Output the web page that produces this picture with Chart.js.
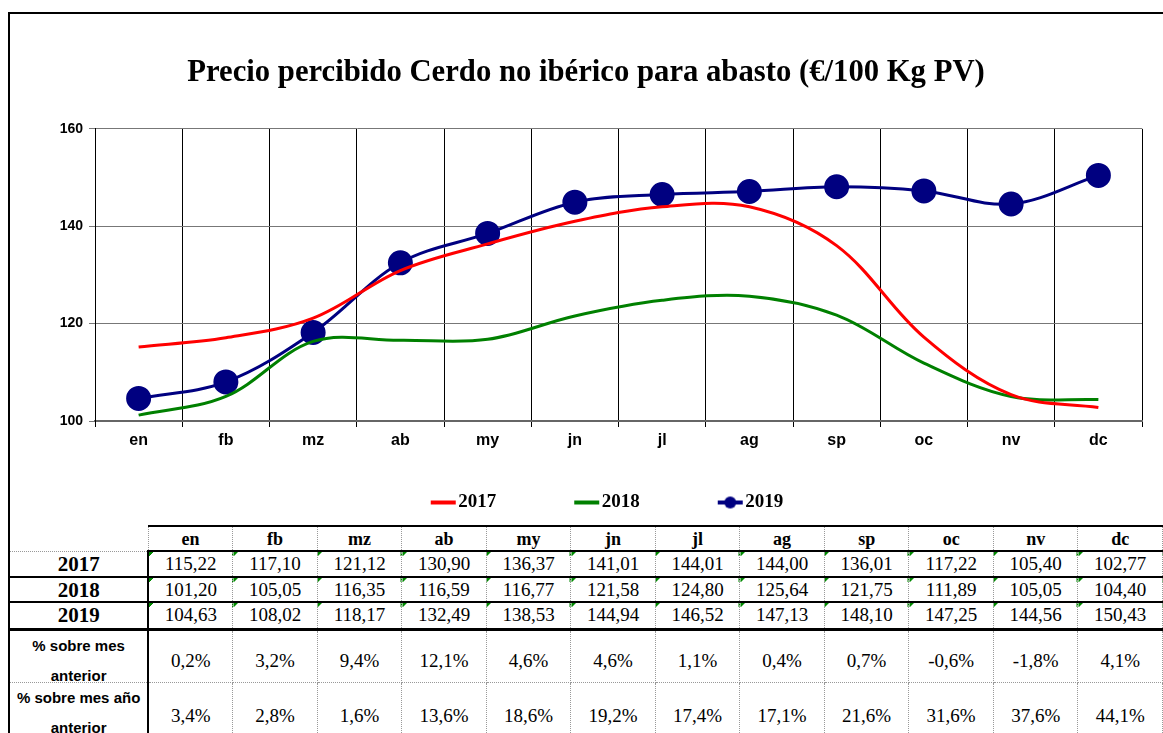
<!DOCTYPE html>
<html lang="es">
<head>
  <meta charset="UTF-8">
  <title>Precio percibido Cerdo no ibérico</title>
  <script src="https://cdn.jsdelivr.net/npm/chart.js"></script>
  <style>
    html, body { margin: 0; padding: 0; background: #fff; overflow: hidden; }
    body { width: 1163px; height: 733px; position: relative; }
    .frame {
      position: absolute; left: 8px; top: 12px; width: 1170px; height: 730px;
      border-top: 2px solid #000; border-left: 2px solid #000;
    }
    .chart-box { position: absolute; left: 10px; top: 14px; width: 1153px; height: 508px; }
    table.datos {
      position: absolute; left: 10px; top: 525px;
      border-collapse: collapse; table-layout: fixed;
      font-family: "Liberation Serif", "Times New Roman", serif; color: #000;
    }
    table.datos td, table.datos th { padding: 0; text-align: center; border: 1px dotted #999; line-height: 20px; }
    table.datos th { font-size: 18px; font-weight: bold; border-top: 2px solid #000; border-bottom: 2px solid #000; }
    table.datos th.blank { border: none; border-bottom: 1px dotted #999; }
    table.datos td { font-size: 19px; }
    table.datos td.lbl { font-weight: bold; font-size: 21px; border-right: 2px solid #000; border-left: none; }
    table.datos tr.yr td { border-bottom: 2px solid #000; }
    table.datos tr.yr td.v {
      background: linear-gradient(135deg, #080 0, #080 3px, transparent 3px);
    }
    table.datos tr.last td { border-bottom: 3px solid #000; }
    table.datos tr.pct td { vertical-align: top; }
    table.datos tr.pct td div { line-height: 30px; height: 30px; overflow: visible; }
    table.datos td.pl {
      font-family: "Liberation Sans", Arial, sans-serif; font-size: 15px; font-weight: bold;
      border-right: 2px solid #000; border-left: none;
    }
  </style>
</head>
<body>
<div class="frame"></div>
<div class="chart-box"><canvas id="precioChart" width="1153" height="508"></canvas></div>
<table class="datos" id="tabla"></table>

<script>
  // months and prices (€/100 Kg PV)
  const months = ["en", "fb", "mz", "ab", "my", "jn", "jl", "ag", "sp", "oc", "nv", "dc"];
  const p2017 = [115.22, 117.10, 121.12, 130.90, 136.37, 141.01, 144.01, 144.00, 136.01, 117.22, 105.40, 102.77];
  const p2018 = [101.20, 105.05, 116.35, 116.59, 116.77, 121.58, 124.80, 125.64, 121.75, 111.89, 105.05, 104.40];
  const p2019 = [104.63, 108.02, 118.17, 132.49, 138.53, 144.94, 146.52, 147.13, 148.10, 147.25, 144.56, 150.43];
  const pctMesAnterior = ["0,2%", "3,2%", "9,4%", "12,1%", "4,6%", "4,6%", "1,1%", "0,4%", "0,7%", "-0,6%", "-1,8%", "4,1%"];
  const pctAnoAnterior = ["3,4%", "2,8%", "1,6%", "13,6%", "18,6%", "19,2%", "17,4%", "17,1%", "21,6%", "31,6%", "37,6%", "44,1%"];
  const yearLabels = ["2017", "2018", "2019"];
  const yTicks = [100, 120, 140, 160];

  // legend marker: line (and dot) drawn at the right end so it sits next to the text
  function legendMarker(color, dot) {
    const c = document.createElement("canvas");
    c.width = 78; c.height = 24;
    const g = c.getContext("2d");
    g.strokeStyle = color; g.lineWidth = 4;
    g.beginPath(); g.moveTo(c.width - 27, 12); g.lineTo(c.width - 2, 12); g.stroke();
    if (dot) {
      g.fillStyle = color;
      g.beginPath(); g.arc(c.width - 14.5, 12, 6, 0, Math.PI * 2); g.fill();
    }
    return c;
  }

  document.addEventListener("DOMContentLoaded", function () {
    const markers = [legendMarker("#ff0000", false), legendMarker("#008000", false), legendMarker("#000080", true)];
    const ctx = document.getElementById("precioChart").getContext("2d");

    new Chart(ctx, {
      type: "line",
      data: {
        labels: months,
        datasets: [
          { label: yearLabels[0], data: p2017, borderColor: "#ff0000", backgroundColor: "#ff0000",
            borderWidth: 3, pointRadius: 0, tension: 0.35 },
          { label: yearLabels[1], data: p2018, borderColor: "#008000", backgroundColor: "#008000",
            borderWidth: 3, pointRadius: 0, tension: 0.35 },
          { label: yearLabels[2], data: p2019, borderColor: "#000080", backgroundColor: "#000080",
            borderWidth: 3, pointRadius: 11, pointBackgroundColor: "#000080", pointBorderColor: "#000080",
            tension: 0.35 }
        ]
      },
      options: {
        responsive: false,
        animation: false,
        layout: { padding: { left: 20, right: 21, top: 0, bottom: 0 } },
        plugins: {
          title: {
            display: true,
            text: "Precio percibido Cerdo no ibérico para abasto (€/100 Kg PV)",
            color: "#000",
            font: { family: "Liberation Serif", size: 30.7, weight: "bold" },
            padding: { top: 41, bottom: 37 }
          },
          legend: {
            position: "bottom",
            labels: {
              color: "#000",
              font: { family: "Liberation Serif", size: 19, weight: "bold" },
              usePointStyle: true,
              pointStyleWidth: 60,
              padding: 36,
              generateLabels: function (chart) {
                const items = Chart.defaults.plugins.legend.labels.generateLabels(chart);
                items.forEach(function (it, i) { it.pointStyle = markers[i]; });
                return items;
              }
            }
          },
          tooltip: { enabled: false }
        },
        scales: {
          x: {
            offset: true,
            grid: { offset: true, color: "#000", lineWidth: 1, tickLength: 6 },
            border: { color: "#666", width: 2 },
            ticks: { color: "#000", padding: 4, font: { family: "Liberation Sans", size: 16, weight: "bold" } },
            afterFit: function (scale) { scale.height = 36; }
          },
          y: {
            min: yTicks[0],
            max: yTicks[yTicks.length - 1],
            grid: { color: "#777", lineWidth: 1, tickLength: 6 },
            border: { color: "#000", width: 1 },
            afterBuildTicks: function (scale) { scale.ticks = yTicks.map(function (v) { return { value: v }; }); },
            ticks: { color: "#000", padding: 6, font: { family: "Liberation Sans", size: 14, weight: "bold" } },
            afterFit: function (scale) { scale.width = 65; }
          }
        }
      }
    });

    // data table under the chart
    const fmt = function (v) { return v.toFixed(2).replace(".", ","); };
    const tabla = document.getElementById("tabla");
    let html = '<colgroup><col style="width:140px">';
    months.forEach(function () { html += '<col style="width:85.2px">'; });
    html += '</colgroup><tr style="height:25px"><th class="blank"></th>';
    months.forEach(function (m) { html += "<th>" + m + "</th>"; });
    html += "</tr>";
    const series = [p2017, p2018, p2019];
    const rowH = [26, 25, 27];
    series.forEach(function (s, i) {
      html += '<tr class="yr' + (i === 2 ? ' last' : '') + '" style="height:' + rowH[i] + 'px"><td class="lbl">' + yearLabels[i] + "</td>";
      s.forEach(function (v) { html += '<td class="v">' + fmt(v) + "</td>"; });
      html += "</tr>";
    });
    html += '<tr class="pct" style="height:53px"><td class="pl"><div>% sobre mes<br>anterior</div></td>';
    pctMesAnterior.forEach(function (p) { html += '<td><div style="margin-top:15px">' + p + "</div></td>"; });
    html += '</tr><tr class="pct" style="height:60px"><td class="pl"><div>% sobre mes año<br>anterior</div></td>';
    pctAnoAnterior.forEach(function (p) { html += '<td><div style="margin-top:18px">' + p + "</div></td>"; });
    html += "</tr>";
    tabla.innerHTML = html;
  });
</script>
</body>
</html>
